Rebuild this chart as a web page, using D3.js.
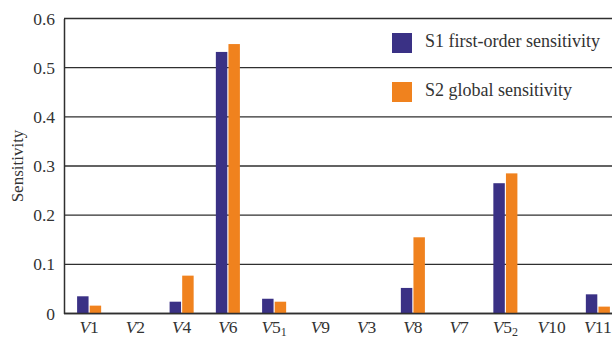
<!DOCTYPE html>
<html>
<head>
<meta charset="utf-8">
<script src="https://cdn.jsdelivr.net/npm/d3@7"></script>
<style>
  html, body { margin: 0; padding: 0; background: #fff; }
  svg { display: block; font-family: "Liberation Serif", serif; }
</style>
</head>
<body>
<div id="chart"></div>
<script>
// variables on the x axis (label = letter + number + optional subscript)
const categories = ['V1', 'V2', 'V4', 'V6', 'V5_1', 'V9', 'V3', 'V8', 'V7', 'V5_2', 'V10', 'V11'];
const s1Values = [0.035, 0, 0.024, 0.532, 0.030, 0, 0, 0.052, 0, 0.265, 0, 0.039];
const s2Values = [0.016, 0, 0.077, 0.548, 0.024, 0, 0, 0.155, 0, 0.285, 0, 0.014];
const seriesNames = ['S1 first-order sensitivity', 'S2 global sensitivity'];
const yTicks = [0, 0.1, 0.2, 0.3, 0.4, 0.5, 0.6];

const colors = ['#3a3185', '#f0821e'];
const width = 612, height = 340;

const svg = d3.select('#chart').append('svg')
    .attr('width', width)
    .attr('height', height);

// scales
const x = d3.scaleBand()
    .domain(categories)
    .range([66, 621])
    .paddingInner(0.48)
    .paddingOuter(0.24);

const xInner = d3.scaleBand()
    .domain([0, 1])
    .range([0, x.bandwidth()])
    .paddingInner(0.09);

const y = d3.scaleLinear()
    .domain([0, 0.6])
    .range([313.5, 18.5]);

// gridlines
svg.append('g')
    .selectAll('line')
    .data(yTicks)
    .enter()
    .append('line')
    .attr('x1', 64)
    .attr('x2', width)
    .attr('y1', d => y(d))
    .attr('y2', d => y(d))
    .style('stroke', '#2f2f2f')
    .style('stroke-width', '1.3px');

// bars
const groups = svg.append('g')
    .selectAll('g')
    .data(categories.map((c, i) => ({ cat: c, vals: [s1Values[i], s2Values[i]] })))
    .enter()
    .append('g')
    .attr('transform', d => `translate(${x(d.cat)},0)`);

groups.selectAll('rect')
    .data(d => d.vals.map((v, k) => ({ v, k })))
    .enter()
    .append('rect')
    .attr('x', d => xInner(d.k))
    .attr('width', xInner.bandwidth())
    .attr('y', d => y(d.v))
    .attr('height', d => y(0) - y(d.v))
    .style('fill', d => colors[d.k]);

// y axis
const yAxis = d3.axisLeft(y)
    .tickValues(yTicks)
    .tickSize(0)
    .tickPadding(9)
    .tickFormat(d => d === 0 ? '0' : d3.format('.1f')(d));

const yg = svg.append('g')
    .attr('transform', 'translate(64,0)')
    .call(yAxis);
yg.select('.domain').style('stroke', '#2f2f2f').style('stroke-width', '1.5px');
yg.selectAll('text')
    .style('font-family', '"Liberation Serif", serif')
    .style('font-size', '17.5px')
    .style('fill', '#333');

// bottom axis line
svg.append('line')
    .attr('x1', 64)
    .attr('x2', width)
    .attr('y1', y(0))
    .attr('y2', y(0))
    .style('stroke', '#2f2f2f')
    .style('stroke-width', '1.5px');

// x labels: italic V, upright number, optional subscript
const xLabels = svg.append('g')
    .selectAll('text')
    .data(categories)
    .enter()
    .append('text')
    .attr('x', d => x(d) + x.bandwidth() / 2)
    .attr('y', 333)
    .attr('text-anchor', 'middle')
    .style('font-size', '17.5px')
    .style('fill', '#333');

xLabels.each(function (d) {
    const t = d3.select(this);
    const parts = d.split('_');
    t.append('tspan').style('font-style', 'italic').text(parts[0][0]);
    t.append('tspan').text(parts[0].slice(1));
    if (parts[1]) {
        t.append('tspan')
            .attr('dy', 3)
            .style('font-size', '12px')
            .text(parts[1]);
    }
});

// y title
svg.append('text')
    .attr('transform', 'translate(23,166) rotate(-90)')
    .attr('text-anchor', 'middle')
    .style('font-size', '17px')
    .style('fill', '#333')
    .text('Sensitivity');

// legend
const legend = svg.append('g')
    .selectAll('g')
    .data(seriesNames)
    .enter()
    .append('g')
    .attr('transform', (d, i) => `translate(392,${33 + i * 49})`);

legend.append('rect')
    .attr('width', 20)
    .attr('height', 20)
    .style('fill', (d, i) => colors[i]);

legend.append('text')
    .attr('x', 33)
    .attr('y', 14)
    .style('font-size', '18px')
    .style('fill', '#333')
    .text(d => d);
</script>
</body>
</html>
